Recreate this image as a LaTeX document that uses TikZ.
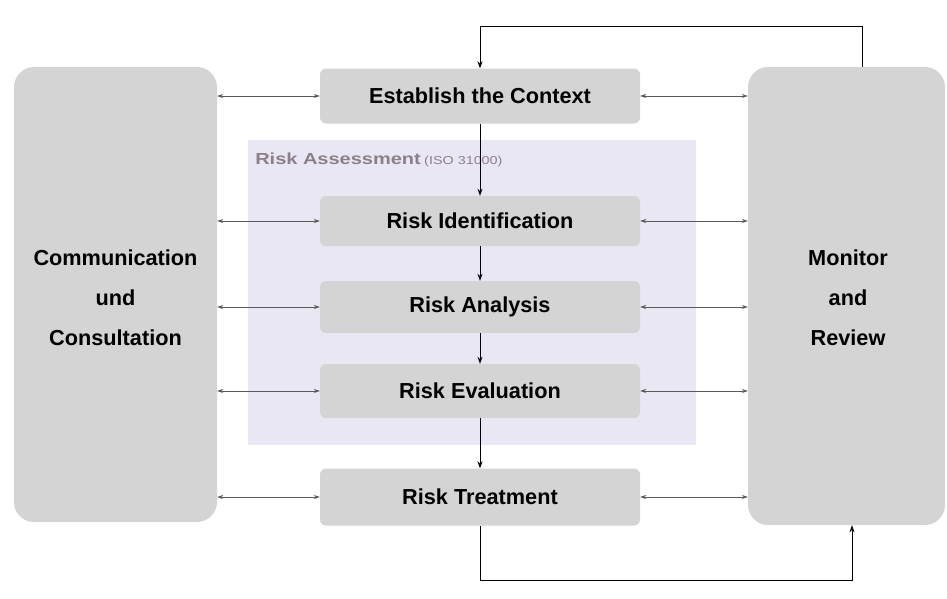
\documentclass[tikz,border=0pt]{standalone}
\usepackage{fontspec}
\setmainfont{Liberation Sans}
\usetikzlibrary{positioning,arrows.meta}

\definecolor{boxgray}{RGB}{212,212,212}
\definecolor{assessfill}{RGB}{233,231,243}
\definecolor{assesstext}{RGB}{140,128,136}
\definecolor{linkgray}{RGB}{95,88,88}

\tikzset{
  stepbox/.style={draw=none, fill=boxgray, rounded corners=6pt, minimum width=320pt, minimum height=53pt, font=\fontsize{21.7}{24}\selectfont\bfseries},
  sidebox/.style={draw=none, fill=boxgray, rounded corners=20pt},
  sidetext/.style={font=\fontsize{21.7}{40}\selectfont\bfseries, align=center},
  twoway/.style={{Stealth[length=6pt,width=4pt]}-{Stealth[length=6pt,width=4pt]}, draw=linkgray, line width=0.8pt},
  oneway/.style={-{Stealth[length=7pt,width=5pt]}, draw=black, line width=1pt},
}

\begin{document}
\begin{tikzpicture}[x=1pt,y=1pt,yscale=-1,xscale=1]
\useasboundingbox (0,0) rectangle (947,598);

%Shape: Rectangle [Risk Assessment]
\fill[assessfill] (248,140) rectangle (696,445);
% Text Node
\node[anchor=west, text=assesstext, xscale=1.25, inner sep=0pt] (assesslabel) at (255,160) {\fontsize{16}{18}\selectfont\textbf{Risk Assessment}\,{\fontsize{11.5}{12}\selectfont (ISO 31000)}};

%Shape: Rounded Rectangle [side boxes]
\node[sidebox, minimum width=203pt, minimum height=455pt] (comm) at (115.5,294.5) {};
\node[sidebox, minimum width=197pt, minimum height=458pt] (mon) at (846.5,296) {};
% Text Node
\node[sidetext] (commtext) at (115.5,298) {Communication\\und\\Consultation};
\node[sidetext] (montext) at (848,298) {Monitor\\and\\Review};

%Shape: Rounded Rectangle [process steps]
\node[stepbox, minimum height=55pt] (ctx) at (480,96) {Establish the Context};
\node[stepbox, minimum height=50pt] (ident) at (480,221) {Risk Identification};
\node[stepbox, minimum height=52pt] (anal) at (480,307) {Risk Analysis};
\node[stepbox, minimum height=54pt] (eval) at (480,391) {Risk Evaluation};
\node[stepbox, minimum height=57pt] (treat) at (480,497) {Risk Treatment};

% Connection
\foreach \s in {ctx,ident,anal,eval,treat}{
  \draw[twoway] (\s.west -| comm.east) -- (\s.west);
  \draw[twoway] (\s.east) -- (\s.east -| mon.west);
}

% Connection
\draw[oneway] (ctx) -- (ident);
\draw[oneway] (ident) -- (anal);
\draw[oneway] (anal) -- (eval);
\draw[oneway] (eval) -- (treat);

% Connection
\coordinate (looptop) at (862,26);
\coordinate (loopbot) at (852,580);
\draw[oneway] (mon.north -| looptop) -- (looptop) -| (ctx.north);
\draw[oneway] (treat.south) |- (loopbot) -- (mon.south -| loopbot);

\end{tikzpicture}
\end{document}
